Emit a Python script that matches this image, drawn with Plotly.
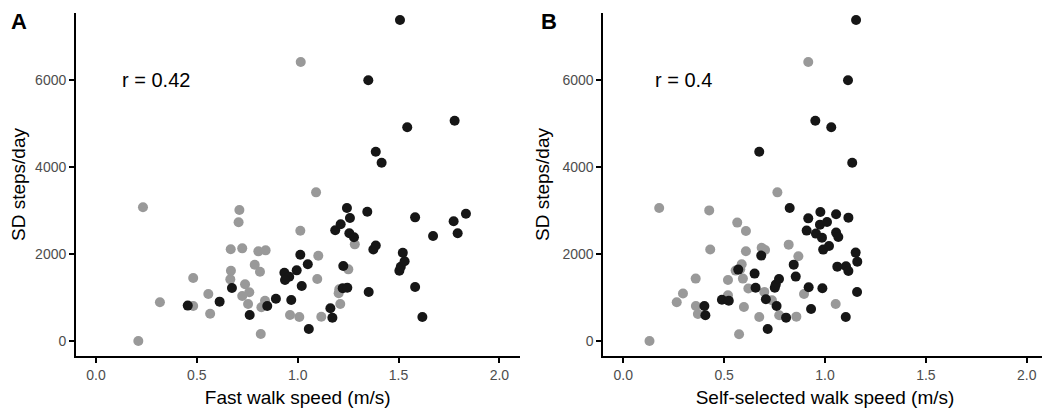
import plotly.graph_objects as go

# ---- Panel A: fast walk speed (m/s) vs SD steps/day ----
a_grey_x = [0.21, 0.233, 0.317, 0.482, 0.482, 0.557, 0.566, 0.666, 0.669, 0.668,
            0.711, 0.707, 0.725, 0.739, 0.760, 0.725, 0.754, 0.787, 0.805, 0.841,
            0.813, 0.820, 0.838, 0.817, 0.962, 1.008, 1.013, 1.015, 1.091, 1.102,
            1.097, 1.117, 1.206, 1.203, 1.211, 1.251, 1.283]
a_grey_y = [0, 3070, 889, 1447, 804, 1079, 625, 1416, 1614, 2106,
            3008, 2726, 2128, 1302, 1118, 1033, 850, 1752, 2059, 2082,
            1591, 774, 925, 161, 597, 551, 2533, 6406, 3414, 1959,
            1424, 558, 1187, 1095, 850, 1646, 2220]
a_black_x = [0.455, 0.613, 0.674, 0.762, 0.849, 0.892, 0.934, 0.958, 0.937, 0.968,
             0.995, 1.013, 1.020, 1.050, 1.055, 1.162, 1.172, 1.186, 1.213, 1.223,
             1.226, 1.244, 1.246, 1.256, 1.259, 1.279, 1.345, 1.352, 1.350, 1.375,
             1.387, 1.387, 1.416, 1.504, 1.507, 1.511, 1.521, 1.530, 1.543, 1.582,
             1.582, 1.618, 1.671, 1.773, 1.778, 1.793, 1.834]
a_black_y = [813, 904, 1217, 597, 804, 969, 1568, 1476, 1401, 941,
             1623, 1982, 1263, 1761, 276, 751, 535, 2542, 2680, 1210,
             1722, 3054, 1224, 2473, 2824, 2381, 2969, 1125, 5986, 2103,
             2195, 4347, 4094, 1614, 7371, 1706, 2028, 1830, 4907, 2840,
             1240, 551, 2411, 2749, 5059, 2473, 2923]

# ---- Panel B: self-selected walk speed (m/s) vs SD steps/day ----
b_grey_x = [0.13, 0.178, 0.265, 0.296, 0.359, 0.360, 0.370, 0.426, 0.431, 0.519,
            0.519, 0.557, 0.565, 0.574, 0.587, 0.593, 0.598, 0.608, 0.608, 0.620,
            0.674, 0.686, 0.703, 0.699, 0.737, 0.764, 0.773, 0.820, 0.858, 0.868,
            0.896, 0.917, 1.053, 0.580]
b_grey_y = [0, 3054, 889, 1090, 1433, 804, 620, 2999, 2102, 1401,
            1050, 1617, 2719, 154, 1761, 1433, 781, 2526, 2060, 1205,
            551, 2143, 2090, 1128, 935, 3414, 590, 2213, 560, 1946,
            1079, 6406, 850, 1650]
b_black_x = [0.402, 0.407, 0.489, 0.523, 0.570, 0.651, 0.656, 0.674, 0.684, 0.707,
             0.716, 0.751, 0.756, 0.760, 0.772, 0.807, 0.825, 0.845, 0.855, 0.909,
             0.917, 0.919, 0.931, 0.952, 0.955, 0.975, 0.977, 0.985, 0.987, 0.991,
             1.010, 1.020, 1.031, 1.055, 1.055, 1.061, 1.066, 1.103, 1.104, 1.114,
             1.116, 1.116, 1.135, 1.152, 1.154, 1.159, 1.160]
b_black_y = [804, 590, 947, 925, 1640, 1548, 1224, 4347, 1961, 958,
             276, 1224, 1295, 804, 1424, 537, 3054, 1754, 1479, 2535,
             2817, 1233, 735, 5059, 2466, 2672, 2962, 2374, 1210, 2099,
             2733, 2181, 4907, 2909, 2489, 1708, 2388, 551, 1715, 5986,
             2833, 1607, 4094, 2030, 7371, 1125, 1823]

x_ticks = [0.0, 0.5, 1.0, 1.5, 2.0]
x_tick_labels = ["0.0", "0.5", "1.0", "1.5", "2.0"]
y_ticks = [0, 2000, 4000, 6000]
y_tick_labels = ["0", "2000", "4000", "6000"]
r_labels = ["r = 0.42", "r = 0.4"]
panel_labels = ["A", "B"]
x_titles = ["Fast walk speed (m/s)", "Self-selected walk speed (m/s)"]
y_title = "SD steps/day"

GREY = "#999999"
BLACK = "#161616"
FONT = "Liberation Sans, Arial, sans-serif"

fig = go.Figure()
for xa, ya, gx, gy, bx, by in [("x", "y", a_grey_x, a_grey_y, a_black_x, a_black_y),
                               ("x2", "y2", b_grey_x, b_grey_y, b_black_x, b_black_y)]:
    fig.add_trace(go.Scatter(x=gx, y=gy, mode="markers", xaxis=xa, yaxis=ya,
                             marker=dict(size=10, color=GREY, line=dict(width=0)),
                             showlegend=False))
    fig.add_trace(go.Scatter(x=bx, y=by, mode="markers", xaxis=xa, yaxis=ya,
                             marker=dict(size=10, color=BLACK, line=dict(width=0)),
                             showlegend=False))

# page has an 8px body margin: figure is sized/positioned to compensate
W, H = 1042, 400
OFF = 8
xaxis_common = dict(range=[-0.1, 2.1], tickvals=x_ticks, ticktext=x_tick_labels,
                    showgrid=False, zeroline=False, showline=True, linecolor="black",
                    linewidth=1.5, ticks="outside", ticklen=5, tickwidth=1.5,
                    tickcolor="black", tickfont=dict(family=FONT, size=14, color="#4d4d4d"),
                    title=dict(font=dict(family=FONT, size=19, color="black"), standoff=9),
                    automargin=False)
yaxis_common = dict(range=[-344, 7532], tickvals=y_ticks, ticktext=y_tick_labels,
                    showgrid=False, zeroline=False, showline=True, linecolor="black",
                    linewidth=1.5, ticks="outside", ticklen=5, tickwidth=1.5,
                    tickcolor="black", tickfont=dict(family=FONT, size=14, color="#4d4d4d"),
                    title=dict(text=y_title, font=dict(family=FONT, size=19, color="black"),
                               standoff=8),
                    automargin=False)

fig.update_layout(
    width=W, height=H,
    margin=dict(l=0, r=0, t=13 - OFF, b=52),
    paper_bgcolor="white", plot_bgcolor="white",
    font=dict(family=FONT),
    xaxis=dict(xaxis_common, domain=[(75.8 - OFF) / W, (519.6 - OFF) / W], anchor="y",
               title=dict(xaxis_common["title"], text=x_titles[0])),
    yaxis=dict(yaxis_common, domain=[0, 1], anchor="x"),
    xaxis2=dict(xaxis_common, domain=[(603.1 - OFF) / W, (1046.9 - OFF) / W], anchor="y2",
                title=dict(xaxis_common["title"], text=x_titles[1])),
    yaxis2=dict(yaxis_common, domain=[0, 1], anchor="x2"),
)

# r annotations in data coordinates
fig.add_annotation(x=0.3, y=6000, xref="x", yref="y", text=r_labels[0], showarrow=False,
                   font=dict(family=FONT, size=20, color="black"))
fig.add_annotation(x=0.3, y=6000, xref="x2", yref="y2", text=r_labels[1], showarrow=False,
                   font=dict(family=FONT, size=20, color="black"))
# panel letters
fig.add_annotation(x=(18.8 - OFF) / W, y=1 - (18 - OFF) / H, xref="paper", yref="paper",
                   yanchor="middle", xanchor="center", text="<b>%s</b>" % panel_labels[0],
                   showarrow=False, font=dict(family=FONT, size=22, color="black"))
fig.add_annotation(x=(549 - OFF) / W, y=1 - (18 - OFF) / H, xref="paper", yref="paper",
                   yanchor="middle", xanchor="center", text="<b>%s</b>" % panel_labels[1],
                   showarrow=False, font=dict(family=FONT, size=22, color="black"))

fig.write_html("out.html")
